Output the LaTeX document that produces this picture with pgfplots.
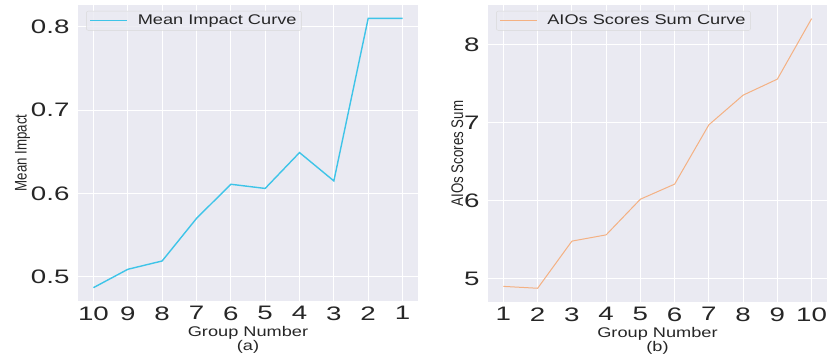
\documentclass[border=0pt]{standalone}
\usepackage{pgfplots}
\pgfplotsset{compat=1.18}
\usepackage{fontspec}
\setmainfont{Liberation Sans}
\definecolor{bgc}{HTML}{EAEAF2}
\definecolor{cyanl}{HTML}{3EC4E8}
\definecolor{orangel}{HTML}{F4B183}
\definecolor{txt}{HTML}{262626}
\newcommand{\sx}[1]{\scalebox{1.42}[1]{#1}}
\newcommand{\lx}[1]{\scalebox{1.3}[1]{#1}}
\newcommand{\yl}[1]{\scalebox{0.95}[1.2]{#1}}
\pgfplotsset{
  sb/.style={
    scale only axis,
    anchor=south west,
    axis background/.style={fill=bgc},
    axis line style={draw=none},
    major tick length=0pt,
    grid=major,
    major grid style={white, line width=1pt},
    /pgf/number format/assume math mode=true,
    ticklabel style={font=\fontsize{19.5}{19.5}\selectfont, text=txt},
    xticklabel style={yshift=-2pt},
    yticklabel style={xshift=-5pt},
    xticklabel={\sx{\pgfmathprintnumber{\tick}}},
    xlabel style={align=center, font=\fontsize{14}{13}\selectfont, text=txt, yshift=1pt},
    ylabel style={font=\fontsize{14}{14}\selectfont, text=txt},
    legend style={at={(0.024,0.98)}, anchor=north west, fill=bgc, fill opacity=0.8, text opacity=1, draw=black!15, rounded corners=2pt, font=\fontsize{14}{14}\selectfont, text=txt, inner xsep=3pt, inner ysep=2pt},
    legend cell align=left,
    legend image code/.code={\draw[#1, draw opacity=1] (0pt,0pt) -- (37pt,0pt);},
  }
}
\begin{document}
\begin{tikzpicture}
\clip (0,0) rectangle (829pt,358pt);
\path[use as bounding box] (0,0) rectangle (829pt,358pt);
\begin{axis}[sb,
  at={(78pt,57pt)}, width=340pt, height=296pt,
  x dir=reverse, xmin=0.55, xmax=10.45, xtick={1,...,10},
  ymin=0.471, ymax=0.826, ytick={0.5,0.6,0.7,0.8},
  yticklabel={\sx{\pgfmathprintnumber[fixed,precision=1,fixed zerofill]{\tick}}},
  xlabel={\lx{Group Number}\\\lx{(a)}},
  ylabel={\yl{Mean Impact}},
  ylabel style={yshift=-6pt},
]
\addplot[cyanl, line width=1.4pt] coordinates {
(10,0.487) (9,0.509) (8,0.519) (7,0.570) (6,0.611) (5,0.606) (4,0.649) (3,0.615) (2,0.810) (1,0.810)
};
\addlegendentry{\hspace{8pt}\lx{Mean Impact Curve}}
\end{axis}
\begin{axis}[sb,
  at={(488pt,56pt)}, width=339pt, height=297pt,
  xmin=0.55, xmax=10.45, xtick={1,...,10},
  ymin=4.70, ymax=8.505, ytick={5,6,7,8},
  yticklabel={\sx{\pgfmathprintnumber{\tick}}},
  xlabel={\lx{Group Number}\\\lx{(b)}},
  ylabel={\yl{AIOs Scores Sum}},
  ylabel style={yshift=-6pt},
]
\addplot[orangel, line width=1pt] coordinates {
(1,4.90) (2,4.876) (3,5.48) (4,5.56) (5,6.017) (6,6.21) (7,6.97) (8,7.35) (9,7.555) (10,8.33)
};
\addlegendentry{\hspace{8pt}\lx{AIOs Scores Sum Curve}}
\end{axis}
\end{tikzpicture}
\end{document}
